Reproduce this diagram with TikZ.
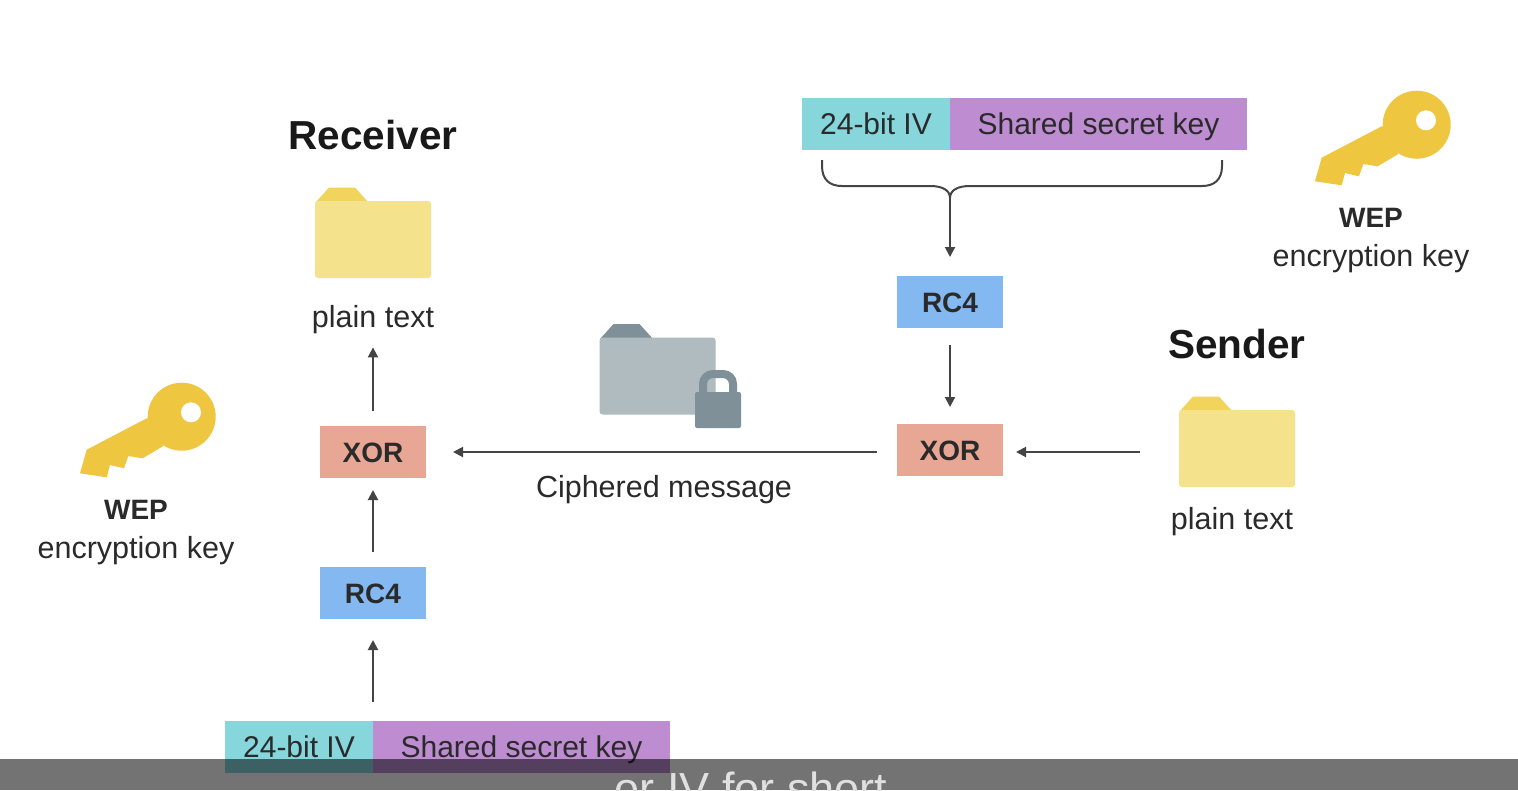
\documentclass[tikz,border=0pt]{standalone}
\usepackage{fontspec}
\setmainfont{Liberation Sans}
\usetikzlibrary{arrows.meta}
\definecolor{ivcol}{HTML}{86D6DC}
\definecolor{keycol}{HTML}{BD8CD1}
\definecolor{rccol}{HTML}{84B8F0}
\definecolor{xorcol}{HTML}{E8A794}
\definecolor{goldcol}{HTML}{EFC63F}
\definecolor{foldercol}{HTML}{F5E28D}
\definecolor{tabcol}{HTML}{F0D45C}
\definecolor{slatecol}{HTML}{B0BBC0}
\definecolor{darkslatecol}{HTML}{7F9099}
\definecolor{inkcol}{HTML}{2A2A2A}
\definecolor{linecol}{HTML}{444444}
\tikzset{
  box/.style={minimum height=52pt,inner sep=0pt,outer sep=0pt,text=inkcol,text height=21pt,text depth=0pt,font=\fontsize{30}{36}\selectfont},
  algo/.style={box,minimum width=106pt,text height=20pt,font=\fontsize{28}{34}\selectfont\bfseries},
  note/.style={text=inkcol,inner sep=0pt,font=\fontsize{30.5}{36}\selectfont},
  notebold/.style={note,font=\fontsize{28}{34}\selectfont\bfseries},
  title/.style={text=black!90,inner sep=0pt,font=\fontsize{40.5}{48}\selectfont\bfseries},
  flow/.style={draw=linecol,line width=2pt,-{Triangle[length=10pt,width=10pt]}},
  pics/folder/.style n args={2}{code={
    \fill[#2] (-57.5,-37) -- (-44,-52) -- (-18,-52) -- (-4.5,-37) -- cycle;
    \node[fill=#1,minimum width=116pt,minimum height=77pt,inner sep=0pt,outer sep=0pt,rounded corners=3pt] (-body) at (0,0) {};
  }},
  pics/goldkey/.style={code={
    \fill[goldcol] (0,0) circle (34);
    \fill[goldcol] (-34.4,1.3) -- (-95,33) -- (-101.7,56.6) -- (-75,60.6) -- (-71.7,48.3)
      -- (-57.7,51.6) -- (-53.4,39.3) -- (-39,41.6) -- (-18.4,29.3) -- cycle;
    \fill[white] (9.3,-4.4) circle (10);
  }},
}
\begin{document}
\begin{tikzpicture}[x=1pt,y=-1pt]
\path[use as bounding box,fill=white] (0,0) rectangle (1518,790);
% sender side
\node[box,fill=ivcol,minimum width=148pt] (ivS) at (876,124) {24-bit IV};
\node[box,fill=keycol,minimum width=297pt] (keyS) at (1098.5,124) {Shared secret key};
\node[algo,fill=rccol] (rcS) at (950,302) {RC4};
\node[algo,fill=xorcol] (xorS) at (950,450) {XOR};
\pic (fS) at (1237,448.5) {folder={foldercol}{tabcol}};
\node[title] (sender) at (1237,344) {Sender};
\node[note] (textS) at (1232,522) {plain text};
\pic at (1416.7,124.7) {goldkey};
\node[notebold] (wepS) at (1371,218) {WEP};
\node[note] (encS) at (1371,259) {encryption key};
% receiver side
\node[box,fill=ivcol,minimum width=148pt] (ivR) at (299,747) {24-bit IV};
\node[box,fill=keycol,minimum width=297pt] (keyR) at (521.5,747) {Shared secret key};
\node[algo,fill=rccol] (rcR) at (373,593) {RC4};
\node[algo,fill=xorcol] (xorR) at (373,452) {XOR};
\pic (fR) at (373,239.5) {folder={foldercol}{tabcol}};
\node[title] (receiver) at (373,135) {Receiver};
\node[note] (textR) at (373,320) {plain text};
\pic at (181.7,416.7) {goldkey};
\node[notebold] (wepR) at (136,510) {WEP};
\node[note] (encR) at (136,551) {encryption key};
% locked message
\pic (fC) at (657.5,376) {folder={slatecol}{darkslatecol}};
\draw[line width=8pt,draw=darkslatecol,rounded corners=10pt] (703,398) -- (703,374) -- (733,374) -- (733,398);
\node[fill=darkslatecol,minimum width=46pt,minimum height=36pt,inner sep=0pt,rounded corners=2pt] (lock) at (718,410) {};
\node[note] (cipher) at (664,490) {Ciphered message};
% brace
\coordinate (braceL) at (822,160);
\coordinate (braceR) at (1222,160);
\coordinate (braceTip) at (950,198);
\draw[line width=2pt,draw=linecol] (braceL) -- (822,166) .. controls (822,180) and (830,186) .. (842,186)
  -- (930,186) .. controls (942,186) and (950,190) .. (braceTip)
  .. controls (950,190) and (958,186) .. (970,186) -- (1202,186)
  .. controls (1214,186) and (1222,180) .. (1222,166) -- (braceR);
% connectors
\draw[flow,shorten >=19pt] (braceTip) -- (rcS);
\draw[flow,shorten >=17pt,shorten <=17pt] (rcS) -- (xorS);
\draw[flow,shorten >=13pt,shorten <=39pt] (fS-body.west |- xorR) -- (xorS.east |- xorR);
\draw[flow,shorten >=27pt,shorten <=20pt] (xorS.west |- xorR) -- (xorR.east);
\draw[flow,shorten >=21pt,shorten <=19pt] (ivR.north east) -- (rcR.south);
\draw[flow,shorten >=12pt,shorten <=15pt] (rcR) -- (xorR);
\draw[flow,shorten >=13pt,shorten <=15pt] (xorR) -- (textR);
% caption bar
\fill[black,opacity=0.55] (0,759) rectangle (1518,790);
\begin{scope}
\clip (0,759) rectangle (1518,790);
\node[anchor=base,inner sep=0pt,text=white!88!black,font=\fontsize{45}{54}\selectfont] (caption) at (751,804) {or IV for short};
\end{scope}
\end{tikzpicture}
\end{document}
